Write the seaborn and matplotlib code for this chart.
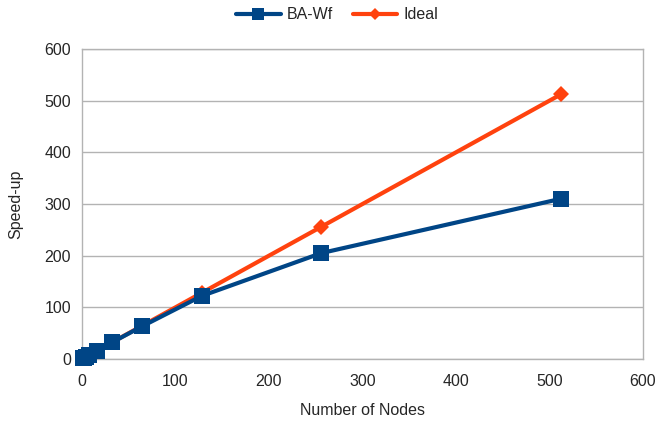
import matplotlib
matplotlib.use('Agg')
import matplotlib.pyplot as plt
import seaborn as sns
import pandas as pd

Nodes = [1, 2, 4, 8, 16, 32, 64, 128, 256, 512]
BAWf = [1, 2, 4, 8, 16, 32, 63, 122, 205, 310]
Ideal = [1, 2, 4, 8, 16, 32, 64, 128, 256, 512]

sns.set_style('white')
plt.rcParams['font.family'] = ['Liberation Sans', 'DejaVu Sans']

Data = pd.DataFrame({'Nodes': Nodes * 2,
                     'Speedup': BAWf + Ideal,
                     'Series': ['BA-Wf'] * len(Nodes) + ['Ideal'] * len(Nodes)})

fig = plt.figure(figsize=(6.58, 4.22), dpi=100)
ax = fig.add_axes([82 / 658, 1 - 359 / 422, (643 - 82) / 658, (359 - 49) / 422])

Palette = {'BA-Wf': '#004586', 'Ideal': '#ff420e'}
sns.lineplot(data=Data[Data['Series'] == 'Ideal'], x='Nodes', y='Speedup', color=Palette['Ideal'],
             marker='D', markersize=8, markeredgewidth=0, linewidth=3, label='Ideal', ax=ax, zorder=3,
             clip_on=False)
sns.lineplot(data=Data[Data['Series'] == 'BA-Wf'], x='Nodes', y='Speedup', color=Palette['BA-Wf'],
             marker='s', markersize=12, markeredgewidth=0, linewidth=3, label='BA-Wf', ax=ax, zorder=4,
             clip_on=False)

ax.set_xlim(0, 600)
ax.set_ylim(0, 600)
ax.set_xticks(range(0, 601, 100))
ax.set_yticks(range(0, 601, 100))
ax.grid(axis='y', color='#b3b3b3', linewidth=1)
for Spine in ax.spines.values():
    Spine.set_color('#b3b3b3')
    Spine.set_linewidth(1)
ax.tick_params(axis='x', direction='out', length=5, color='#b3b3b3', labelsize=11.5, pad=6)
ax.tick_params(axis='y', length=0, labelsize=11.5, pad=8)
ax.set_xlabel('Number of Nodes', fontsize=11.5, labelpad=10)
ax.set_ylabel('Speed-up', fontsize=11.5, labelpad=15)

Handles, Labels = ax.get_legend_handles_labels()
Order = [Labels.index('BA-Wf'), Labels.index('Ideal')]
ax.legend([Handles[i] for i in Order], [Labels[i] for i in Order], loc='center',
          bbox_to_anchor=(0.455, 1 + 34 / 310), ncol=2, frameon=False, fontsize=11.5,
          handlelength=2.8, handletextpad=0.4, columnspacing=1.2, markerscale=0.75)

plt.savefig('out.png', dpi=100)
